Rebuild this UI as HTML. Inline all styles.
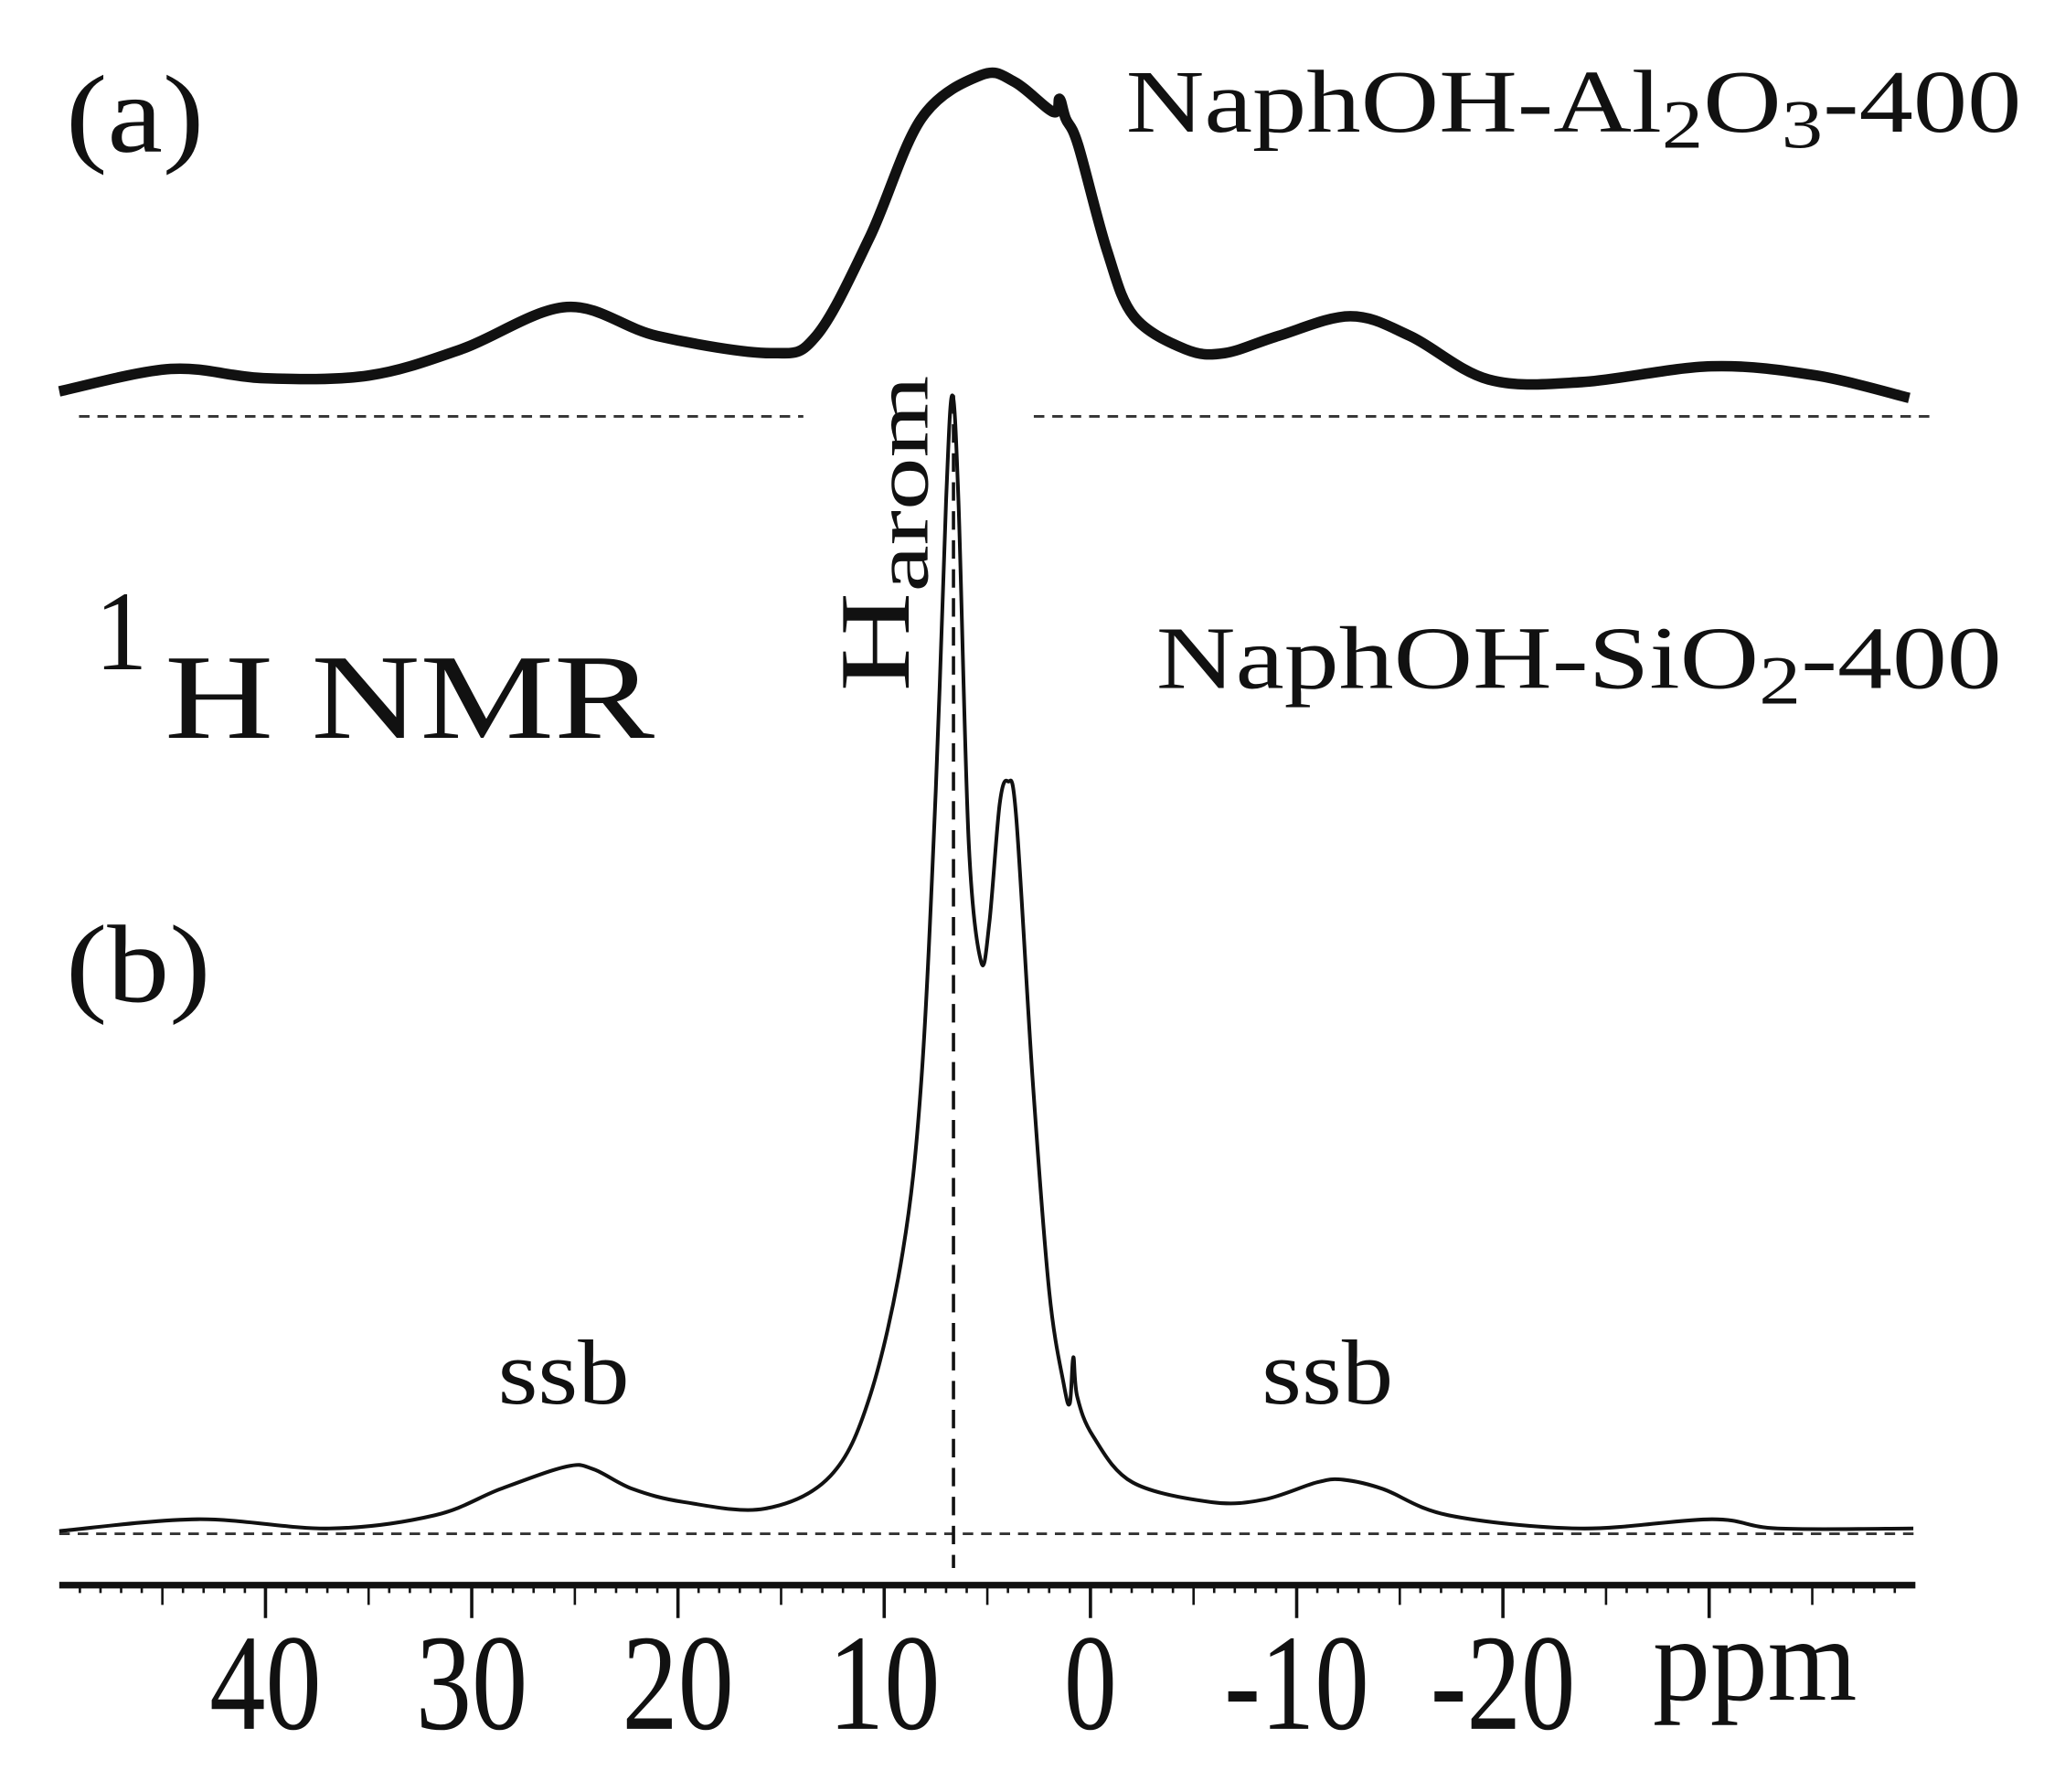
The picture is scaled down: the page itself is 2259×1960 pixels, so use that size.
<!DOCTYPE html>
<html><head><meta charset="utf-8"><style>html,body{margin:0;padding:0;background:#fff}svg{display:block}text{font-family:"Liberation Serif",serif;fill:#111}</style></head>
<body>
<svg id="chart" width="2259" height="1960" viewBox="0 0 1568 1360" preserveAspectRatio="none" xmlns="http://www.w3.org/2000/svg">
<g id="axes"></g>
<g id="series"></g>
<text x="50" y="115" font-size="84" textLength="105" lengthAdjust="spacingAndGlyphs">(a)</text>
<text x="855" y="100" font-size="68" textLength="680" lengthAdjust="spacingAndGlyphs">NaphOH-Al<tspan font-size="52" dy="12">2</tspan><tspan dy="-12">O</tspan><tspan font-size="52" dy="12">3</tspan><tspan dy="-12">-400</tspan></text>
<text x="72" y="508" font-size="86" textLength="40" lengthAdjust="spacingAndGlyphs">1</text>
<text x="125" y="560" font-size="92" textLength="372" lengthAdjust="spacingAndGlyphs">H NMR</text>
<text transform="translate(690,525) rotate(-90)" font-size="76" textLength="240" lengthAdjust="spacingAndGlyphs">H<tspan font-size="58" dy="14">arom</tspan></text>
<text x="878" y="522" font-size="68" textLength="642" lengthAdjust="spacingAndGlyphs">NaphOH-SiO<tspan font-size="52" dy="12">2</tspan><tspan dy="-12">-400</tspan></text>
<text x="50" y="760" font-size="84" textLength="110" lengthAdjust="spacingAndGlyphs">(b)</text>
<text x="378" y="1065" font-size="70" textLength="100" lengthAdjust="spacingAndGlyphs">ssb</text>
<text x="958" y="1065" font-size="70" textLength="100" lengthAdjust="spacingAndGlyphs">ssb</text>
<text x="1255" y="1290" font-size="90" textLength="155" lengthAdjust="spacingAndGlyphs">ppm</text>
</svg>
<script>
const tickValues=[40,30,20,10,0,-10,-20,-30];
const tickLabels=["40","30","20","10","0","-10","-20"];
const ppmA=[50,44.6,40.1,35,30.5,25.4,21,15.5,13.3,10.7,8.2,5.3,3.7,1.8,1.5,1.2,0.6,-0.8,-2.1,-4.6,-6.5,-9.1,-12.6,-15.5,-19.3,-23.8,-30.1,-35.2,-39.7];
const intA=[19,36,29,31,51,83,61,48,61,136,226,259,254,231,241,226,206,126,76,51,48,61,76,61,28,26,38,31,14];
const ppmB=[50,43.3,36.9,31.8,28.6,25.4,24.1,22.2,19.7,15.8,12.6,10.7,9.1,8.2,7.5,7.0,6.7,6.4,5.9,5.3,4.9,4.4,4.0,3.6,2.8,2.0,1.3,1.0,0.83,0.64,-0.13,-2.04,-5.87,-8.43,-10.98,-12.26,-14.18,-17.37,-23.75,-30.14,-33.33,-39.9];
const intB=[2,11,4,14,34,51,49,34,24,19,44,104,214,344,564,784,864,784,524,434,464,554,571,544,344,184,114,99,134,104,74,39,24,26,39,41,34,14,4,11,4,4];
const NS="http://www.w3.org/2000/svg";
const x=p=>828-15.66*p;
const yA=v=>316-v, yB=v=>1164-v;
const axes=document.getElementById('axes'), ser=document.getElementById('series');
function mk(tag,attrs,parent){const e=document.createElementNS(NS,tag);for(const k in attrs)e.setAttribute(k,attrs[k]);parent.appendChild(e);return e;}
function smooth(xs,ys){let d=`M${xs[0]},${ys[0]}`;for(let i=0;i<xs.length-1;i++){const x0=xs[Math.max(0,i-1)],y0=ys[Math.max(0,i-1)],x1=xs[i],y1=ys[i],x2=xs[i+1],y2=ys[i+1],x3=xs[Math.min(xs.length-1,i+2)],y3=ys[Math.min(xs.length-1,i+2)];d+=` C${x1+(x2-x0)/6},${y1+(y2-y0)/6} ${x2-(x3-x1)/6},${y2-(y3-y1)/6} ${x2},${y2}`;}return d;}
let e;
e=mk('line',{x1:x(50),x2:x(-40),y1:1203,y2:1203,stroke:'#111','stroke-width':5},axes);


for(let p=49;p>=-39;p--){const major=p%10===0,mid=p%5===0;
 e=mk('line',{x1:x(p),x2:x(p),y1:1203,y2:major?1228:(mid?1218:1209),stroke:'#111','stroke-width':major?2.5:1.8},axes);
 
 }
tickLabels.forEach((t,i)=>{const w=t.length===1?40:(t.length===2?85:110);
 e=mk('text',{x:x(tickValues[i])-w/2,y:1312,'font-size':104,textLength:w,lengthAdjust:'spacingAndGlyphs'},axes);e.textContent=t;
 
 });
e=mk('path',{d:`M60,316H610M785,316H1468`,stroke:'#333','stroke-width':2,'stroke-dasharray':'8,6',fill:'none'},axes);


e=mk('line',{x1:45,x2:1453,y1:1164,y2:1164,stroke:'#333','stroke-width':2,'stroke-dasharray':'8,6'},axes);


e=mk('line',{x1:724,x2:724,y1:300,y2:1190,stroke:'#111','stroke-width':2.5,'stroke-dasharray':'14,8'},axes);


e=mk('path',{d:smooth(ppmA.map(x),intA.map(yA)),stroke:'#111','stroke-width':8,fill:'none','stroke-linejoin':'round'},ser);


e=mk('path',{d:smooth(ppmB.map(x),intB.map(yB)),stroke:'#111','stroke-width':2.8,fill:'none','stroke-linejoin':'round'},ser);


</script>
</body></html>
